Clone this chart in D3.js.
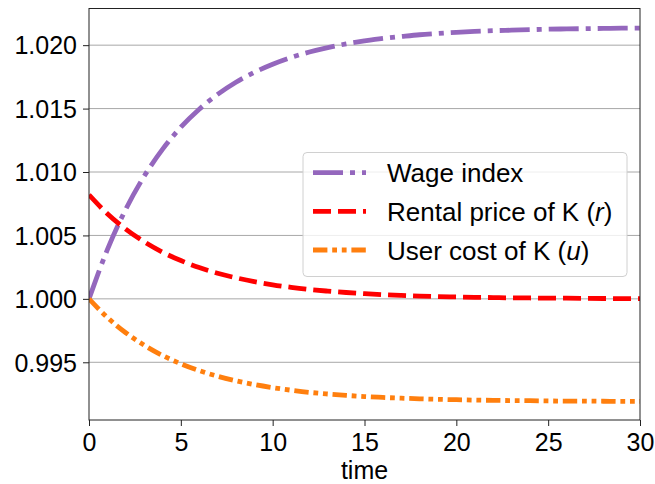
<!DOCTYPE html>
<html>
<head>
<meta charset="utf-8">
<script src="https://cdn.jsdelivr.net/npm/d3@7"></script>
<style>
  html, body { margin: 0; padding: 0; background: #fff; }
  svg { display: block; font-family: "Liberation Sans", Arial, Helvetica, sans-serif; }
</style>
</head>
<body>
<svg id="chart" width="655" height="484"></svg>
<script>
// Time periods after the shock
const time = d3.range(0, 31);

// Wage index, rising towards its new steady state
const wageIndex = [
  1.00000, 1.00388, 1.00706, 1.00966, 1.01178, 1.01353, 1.01495, 1.01612,
  1.01708, 1.01786, 1.01850, 1.01903, 1.01946, 1.01981, 1.02010, 1.02033,
  1.02053, 1.02068, 1.02082, 1.02092, 1.02101, 1.02108, 1.02114, 1.02118,
  1.02122, 1.02126, 1.02128, 1.02130, 1.02132, 1.02134, 1.02135
];

// Rental price of capital (r), jumping up then returning to 1
const rentalPrice = [
  1.00820, 1.00671, 1.00550, 1.00450, 1.00368, 1.00302, 1.00247, 1.00202,
  1.00166, 1.00136, 1.00111, 1.00091, 1.00074, 1.00061, 1.00050, 1.00041,
  1.00033, 1.00027, 1.00022, 1.00018, 1.00015, 1.00012, 1.00010, 1.00008,
  1.00007, 1.00005, 1.00005, 1.00004, 1.00003, 1.00002, 1.00002
];

// User cost of capital (u), falling to a lower level
const userCost = [
  1.00000, 0.99853, 0.99733, 0.99635, 0.99554, 0.99488, 0.99434, 0.99390,
  0.99354, 0.99324, 0.99300, 0.99280, 0.99263, 0.99250, 0.99239, 0.99230,
  0.99223, 0.99217, 0.99212, 0.99208, 0.99205, 0.99202, 0.99200, 0.99198,
  0.99197, 0.99195, 0.99194, 0.99194, 0.99193, 0.99192, 0.99192
];

const seriesNames = ["Wage index", "Rental price of K (", "User cost of K ("];
const seriesSymbols = ["", "r", "u"];
const xTicks = [0, 5, 10, 15, 20, 25, 30];
const yTicks = [0.995, 1.000, 1.005, 1.010, 1.015, 1.020];

const series = [
  { values: wageIndex,   color: "#9467bd", dash: "30,7,5,7" },
  { values: rentalPrice, color: "#ff0000", dash: "18,7" },
  { values: userCost,    color: "#ff7f0e", dash: "14.4,4.8,4.8,4.8,4.8,4.8" }
];

const svg = d3.select("#chart");
const plot = { left: 89, right: 640, top: 8.5, bottom: 420 };
const fontSize = 25;

const x = d3.scaleLinear().domain([0, 30]).range([plot.left, plot.right]);
const y = d3.scaleLinear().domain([0.99045, 1.02289]).range([plot.bottom, plot.top]);

svg.append("defs").append("clipPath").attr("id", "plot-clip")
  .append("rect")
  .attr("x", plot.left).attr("y", plot.top)
  .attr("width", plot.right - plot.left).attr("height", plot.bottom - plot.top);

// Horizontal grid lines
svg.append("g")
  .selectAll("line")
  .data(yTicks)
  .join("line")
  .attr("x1", plot.left).attr("x2", plot.right)
  .attr("y1", d => y(d)).attr("y2", d => y(d))
  .attr("stroke", "#a8a8a8")
  .attr("stroke-width", 1);

// Series lines
const line = d3.line()
  .x((d, i) => x(time[i]))
  .y(d => y(d))
  .curve(d3.curveMonotoneX);

svg.append("g").attr("clip-path", "url(#plot-clip)")
  .selectAll("path")
  .data(series)
  .join("path")
  .attr("d", d => line(d.values))
  .attr("fill", "none")
  .attr("stroke", d => d.color)
  .attr("stroke-width", 4.8)
  .attr("stroke-dasharray", d => d.dash)
  .attr("stroke-linecap", "butt");

// Axes
const xAxis = d3.axisBottom(x).tickValues(xTicks).tickSize(6).tickPadding(6)
  .tickFormat(d3.format("d"));
const yAxis = d3.axisLeft(y).tickValues(yTicks).tickSize(6).tickPadding(6)
  .tickFormat(d3.format(".3f"));

const gx = svg.append("g").attr("transform", `translate(0,${plot.bottom})`).call(xAxis);
const gy = svg.append("g").attr("transform", `translate(${plot.left},0)`).call(yAxis);

[gx, gy].forEach(g => {
  g.select(".domain").remove();
  g.selectAll(".tick line").attr("stroke", "#222").attr("stroke-width", 1);
  g.selectAll(".tick text")
    .attr("fill", "#000")
    .style("font-size", fontSize + "px")
    .style("font-family", "'Liberation Sans', Arial, Helvetica, sans-serif");
});
gx.selectAll(".tick text").attr("dy", null).attr("y", 31);
gy.selectAll(".tick text").attr("dy", "0.35em");

// Axis frame
svg.append("rect")
  .attr("x", plot.left).attr("y", plot.top)
  .attr("width", plot.right - plot.left).attr("height", plot.bottom - plot.top)
  .attr("fill", "none").attr("stroke", "#222").attr("stroke-width", 1);

// X axis title
svg.append("text")
  .attr("x", (plot.left + plot.right) / 2)
  .attr("y", 479)
  .attr("text-anchor", "middle")
  .style("font-size", fontSize + "px")
  .text("time");

// Legend
const legend = svg.append("g");
legend.append("rect")
  .attr("x", 303).attr("y", 152.5)
  .attr("width", 324).attr("height", 124)
  .attr("rx", 4).attr("ry", 4)
  .attr("fill", "#fff").attr("fill-opacity", 0.8)
  .attr("stroke", "#d0d0d0").attr("stroke-width", 1);

const rowY = [172.7, 211.3, 250];
series.forEach((s, i) => {
  legend.append("line")
    .attr("x1", 313).attr("x2", 366)
    .attr("y1", rowY[i]).attr("y2", rowY[i])
    .attr("stroke", s.color)
    .attr("stroke-width", 4.8)
    .attr("stroke-dasharray", s.dash);
  const t = legend.append("text")
    .attr("x", 387)
    .attr("y", rowY[i] + 9.5)
    .style("font-size", "26px");
  t.append("tspan").text(seriesNames[i]);
  if (seriesSymbols[i]) {
    t.append("tspan").style("font-style", "italic").text(seriesSymbols[i]);
    t.append("tspan").text(")");
  }
});
</script>
</body>
</html>
